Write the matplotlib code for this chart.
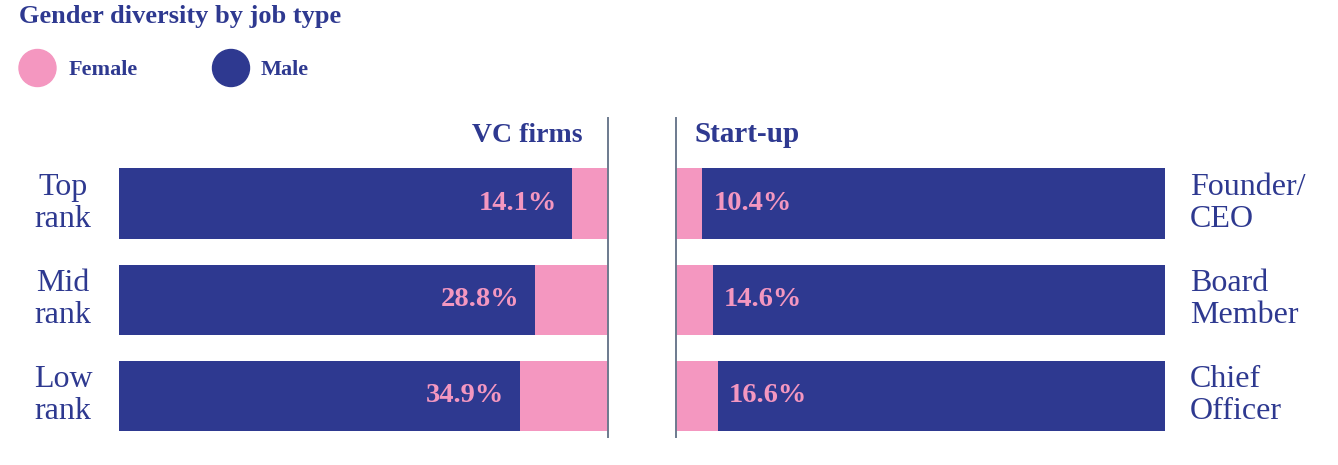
import matplotlib.pyplot as plt
from matplotlib.patches import Circle

# data
vc_ranks = ['Top\nrank', 'Mid\nrank', 'Low\nrank']
vc_female = [14.1, 28.8, 34.9]
su_roles = ['Founder/\nCEO', 'Board\nMember', 'Chief\nOfficer']
su_female = [10.4, 14.6, 16.6]
groups = ['Female', 'Male']

NAVY = '#2e3990'
PINK = '#f497c0'
LINE = '#6c7a8e'
SPAN = 193  # full bar length in % units, as drawn in the source

plt.rcParams['font.family'] = ['Liberation Serif', 'DejaVu Serif']

fig = plt.figure(figsize=(13.38, 4.65), dpi=100)
W, H = 1338, 465

def fx(px):
    return px / W

def fy(py):
    return 1 - py / H

# panel axes (pixel boxes)
top, bottom = 118, 437
axL = fig.add_axes([fx(119), fy(bottom), fx(489), (bottom - top) / H])
axR = fig.add_axes([fx(676), fy(bottom), fx(489), (bottom - top) / H])

ypos = [0, 1, 2]
ylim = (2.43, -0.89)
bh = 0.73

# left: navy from the left, pink against the divider
male_L = [SPAN - f for f in vc_female]
axL.barh(ypos, male_L, height=bh, color=NAVY, left=0)
axL.barh(ypos, vc_female, height=bh, color=PINK, left=male_L)
for y, f, m in zip(ypos, vc_female, male_L):
    axL.annotate(f'{f}%', (m, y), xytext=(-11, 0), textcoords='offset points',
                 ha='right', va='center', color=PINK, fontsize=20.5, fontweight='bold')

# right: pink against the divider, navy after
male_R = [SPAN - f for f in su_female]
axR.barh(ypos, su_female, height=bh, color=PINK, left=0)
axR.barh(ypos, male_R, height=bh, color=NAVY, left=su_female)
for y, f in zip(ypos, su_female):
    axR.annotate(f'{f}%', (f, y), xytext=(8, 0), textcoords='offset points',
                 ha='left', va='center', color=PINK, fontsize=20.5, fontweight='bold')

for ax in (axL, axR):
    ax.set_xlim(0, SPAN)
    ax.set_ylim(*ylim)
    ax.set_xticks([])
    ax.set_yticks([])
    for s in ax.spines.values():
        s.set_visible(False)
axL.spines['right'].set_visible(True)
axL.spines['right'].set_color(LINE)
axL.spines['right'].set_linewidth(1.4)
axR.spines['left'].set_visible(True)
axR.spines['left'].set_color(LINE)
axR.spines['left'].set_linewidth(1.4)

# row labels
for y, lab in zip(ypos, vc_ranks):
    axL.annotate(lab, (0, y), xytext=(-56, 0), textcoords='offset pixels',
                 ha='center', va='center', color=NAVY, fontsize=23,
                 multialignment='center', linespacing=1.12)
for y, lab in zip(ypos, su_roles):
    axR.annotate(lab, (SPAN, y), xytext=(25, 0), textcoords='offset pixels',
                 ha='left', va='center', color=NAVY, fontsize=23,
                 linespacing=1.12)

# panel headings
fig.text(fx(583), fy(135), 'VC firms', ha='right', va='center',
         color=NAVY, fontsize=20, fontweight='bold')
fig.text(fx(695), fy(135), 'Start-up', ha='left', va='center',
         color=NAVY, fontsize=21, fontweight='bold')

# title and legend
fig.text(fx(19), fy(17), 'Gender diversity by job type', ha='left', va='center',
         color=NAVY, fontsize=19, fontweight='bold')
for cx, tx, col, lab in [(37.5, 69, PINK, groups[0]), (231, 261, NAVY, groups[1])]:
    # transform=None -> display pixels (origin bottom-left)
    fig.add_artist(Circle((cx, H - 68), 18.5, color=col, transform=None))
    fig.text(fx(tx), fy(70), lab, ha='left', va='center', color=NAVY,
             fontsize=16, fontweight='bold')

fig.savefig('out.png', dpi=100)
